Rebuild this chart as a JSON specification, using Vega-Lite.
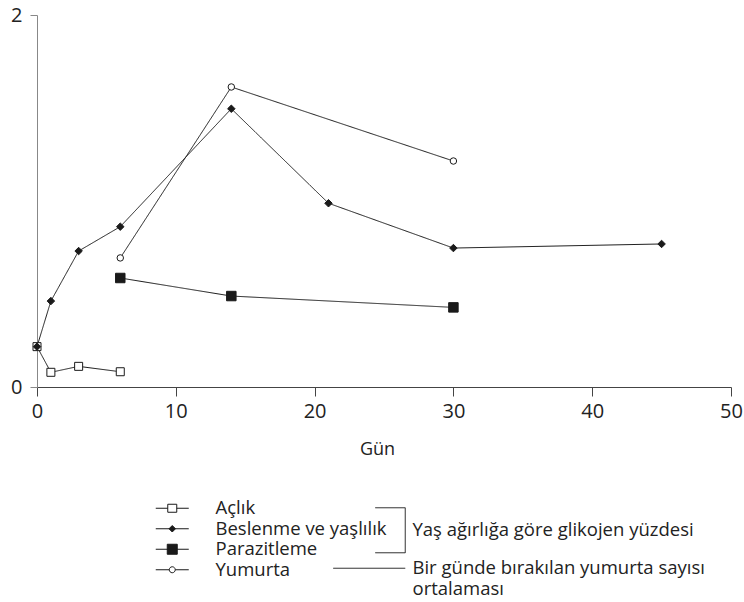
{
  "$schema": "https://vega.github.io/schema/vega-lite/v6.json",
  "width": 694,
  "height": 372,
  "autosize": {"type": "none"},
  "padding": {"left": 37, "top": 15, "right": 13, "bottom": 215},
  "background": "white",
  "config": {"view": {"stroke": null}, "font": "Open Sans"},
  "data": {
    "values": [
      {"series": "Açlık", "measure": "Yaş ağırlığa göre glikojen yüzdesi", "day": 0, "value": 0.217},
      {"series": "Açlık", "measure": "Yaş ağırlığa göre glikojen yüzdesi", "day": 1, "value": 0.079},
      {"series": "Açlık", "measure": "Yaş ağırlığa göre glikojen yüzdesi", "day": 3, "value": 0.111},
      {"series": "Açlık", "measure": "Yaş ağırlığa göre glikojen yüzdesi", "day": 6, "value": 0.082},
      {"series": "Beslenme ve yaşlılık", "measure": "Yaş ağırlığa göre glikojen yüzdesi", "day": 0, "value": 0.217},
      {"series": "Beslenme ve yaşlılık", "measure": "Yaş ağırlığa göre glikojen yüzdesi", "day": 1, "value": 0.462},
      {"series": "Beslenme ve yaşlılık", "measure": "Yaş ağırlığa göre glikojen yüzdesi", "day": 3, "value": 0.731},
      {"series": "Beslenme ve yaşlılık", "measure": "Yaş ağırlığa göre glikojen yüzdesi", "day": 6, "value": 0.862},
      {"series": "Beslenme ve yaşlılık", "measure": "Yaş ağırlığa göre glikojen yüzdesi", "day": 14, "value": 1.496},
      {"series": "Beslenme ve yaşlılık", "measure": "Yaş ağırlığa göre glikojen yüzdesi", "day": 21, "value": 0.988},
      {"series": "Beslenme ve yaşlılık", "measure": "Yaş ağırlığa göre glikojen yüzdesi", "day": 30, "value": 0.747},
      {"series": "Beslenme ve yaşlılık", "measure": "Yaş ağırlığa göre glikojen yüzdesi", "day": 45, "value": 0.769},
      {"series": "Parazitleme", "measure": "Yaş ağırlığa göre glikojen yüzdesi", "day": 6, "value": 0.586},
      {"series": "Parazitleme", "measure": "Yaş ağırlığa göre glikojen yüzdesi", "day": 14, "value": 0.489},
      {"series": "Parazitleme", "measure": "Yaş ağırlığa göre glikojen yüzdesi", "day": 30, "value": 0.428},
      {"series": "Yumurta", "measure": "Bir günde bırakılan yumurta sayısı ortalaması", "day": 6, "value": 0.694},
      {"series": "Yumurta", "measure": "Bir günde bırakılan yumurta sayısı ortalaması", "day": 14, "value": 1.613},
      {"series": "Yumurta", "measure": "Bir günde bırakılan yumurta sayısı ortalaması", "day": 30, "value": 1.215}
    ]
  },
  "encoding": {
    "x": {
      "field": "day", "type": "quantitative",
      "scale": {"domain": [0, 50]},
      "axis": {
        "values": [0, 10, 20, 30, 40, 50], "title": "Gün", "titleFontSize": 18, "titleFontWeight": "normal",
        "titleColor": "#222", "titlePadding": 19, "titleX": 340, "labelFontSize": 20, "labelColor": "#222", "labelPadding": 5,
        "tickSize": 9, "tickColor": "#444", "domainColor": "#444", "grid": false, "labelFlush": false
      }
    },
    "y": {
      "field": "value", "type": "quantitative",
      "scale": {"domain": [0, 2]},
      "axis": {
        "values": [0, 1, 2], "format": "d", "title": null, "labelFontSize": 20, "labelColor": "#222", "labelPadding": 8,
        "tickSize": 7, "tickColor": "#888", "domainColor": "#888", "grid": false
      }
    }
  },
  "layer": [
    {
      "mark": {"type": "line", "color": "#1a1a1a", "strokeWidth": 1},
      "encoding": {
        "detail": {"field": "series"},
        "strokeDash": {
          "field": "measure", "type": "nominal",
          "scale": {"domain": ["Yaş ağırlığa göre glikojen yüzdesi", "Bir günde bırakılan yumurta sayısı ortalaması"], "range": [[1, 0], [1, 0]]},
          "legend": {
            "title": null, "orient": "none", "legendX": 359, "legendY": 506, "columns": 1, "padding": 0,
            "rowPadding": 4, "symbolSize": 100, "labelFont": "Open Sans", "labelFontSize": 18.5, "labelColor": "#222",
            "labelOffset": -2, "labelLimit": 500,
            "symbolType": {"expr": "datum.value == 'Yaş ağırlığa göre glikojen yüzdesi' ? 'M-6,-4.5H0V4.5H-6' : 'M-14.4,0H0'"},
            "symbolStrokeColor": "#1a1a1a", "symbolStrokeWidth": 1, "symbolFillColor": "transparent",
            "labelExpr": "datum.label == 'Bir günde bırakılan yumurta sayısı ortalaması' ? ['Bir günde bırakılan yumurta sayısı', 'ortalaması'] : datum.label"
          }
        }
      }
    },
    {
      "mark": {"type": "point", "filled": true, "stroke": "#1a1a1a", "strokeWidth": 1, "opacity": 1, "fillOpacity": 1, "strokeOpacity": 1},
      "encoding": {
        "shape": {
          "field": "series", "type": "nominal",
          "scale": {"domain": ["Yumurta", "Açlık", "Beslenme ve yaşlılık", "Parazitleme"], "range": ["circle", "square", "diamond", "square"]},
          "legend": null
        },
        "fill": {
          "field": "series", "type": "nominal",
          "scale": {"domain": ["Açlık", "Beslenme ve yaşlılık", "Parazitleme", "Yumurta"], "range": ["white", "#1a1a1a", "#1a1a1a", "white"]},
          "legend": {
            "title": null, "orient": "none", "legendX": 126, "legendY": 484, "columns": 1, "padding": 0,
            "rowPadding": 1.5, "symbolSize": 100, "labelFont": "Open Sans", "labelFontSize": 18.5, "labelColor": "#222",
            "labelOffset": 34, "labelLimit": 500,
            "symbolType": {"expr": "datum.value == 'Açlık' ? 'M-3.3,0H-0.9M0.9,0H3.3M-0.9,-0.8H0.9V0.8H-0.9Z' : datum.value == 'Beslenme ve yaşlılık' ? 'M-3.3,0H3.3M-0.65,0L0,-0.65L0.65,0L0,0.65Z' : datum.value == 'Parazitleme' ? 'M-3.3,0H3.3M-1,-1H1V1H-1Z' : 'M-3.3,0H-0.6M0.6,0H3.3M-0.6,0A0.6,0.6,0,1,0,0.6,0A0.6,0.6,0,1,0,-0.6,0Z'"},
            "symbolStrokeColor": "#1a1a1a", "symbolStrokeWidth": 1, "symbolOpacity": 1
          }
        },
        "size": {
          "field": "series", "type": "nominal",
          "scale": {"type": "ordinal", "domain": ["Parazitleme", "Açlık", "Beslenme ve yaşlılık", "Yumurta"], "range": [90, 64, 56, 42]},
          "legend": null
        }
      }
    }
  ]
}
